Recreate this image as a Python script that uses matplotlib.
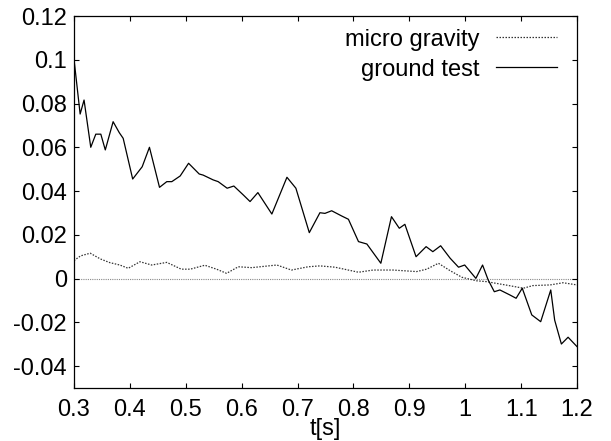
import matplotlib
matplotlib.use("Agg")
import matplotlib.pyplot as plt

# datos
t_ground = [0.300, 0.311, 0.318, 0.330, 0.339, 0.348, 0.356, 0.370, 0.381, 0.388,
            0.405, 0.422, 0.435, 0.453, 0.466, 0.475, 0.490, 0.505, 0.524, 0.531,
            0.549, 0.558, 0.574, 0.586, 0.603, 0.615, 0.629, 0.654, 0.681, 0.697,
            0.721, 0.740, 0.749, 0.761, 0.779, 0.791, 0.809, 0.824, 0.849, 0.868,
            0.882, 0.892, 0.912, 0.930, 0.942, 0.956, 0.973, 0.988, 0.999, 1.019,
            1.031, 1.041, 1.052, 1.062, 1.080, 1.091, 1.102, 1.119, 1.135, 1.153,
            1.160, 1.172, 1.184, 1.200]
ground = [0.1003, 0.0752, 0.0816, 0.0600, 0.0660, 0.0660, 0.0588, 0.0717, 0.0667, 0.0641,
          0.0455, 0.0511, 0.0600, 0.0417, 0.0443, 0.0443, 0.0469, 0.0527, 0.0478, 0.0473,
          0.0451, 0.0443, 0.0413, 0.0423, 0.0382, 0.0352, 0.0393, 0.0295, 0.0463, 0.0413,
          0.0210, 0.0301, 0.0298, 0.0310, 0.0286, 0.0271, 0.0169, 0.0158, 0.0070, 0.0283,
          0.0230, 0.0248, 0.0100, 0.0146, 0.0123, 0.0150, 0.0093, 0.0052, 0.0062, 0.0001,
          0.0062, -0.0006, -0.0060, -0.0052, -0.0075, -0.0090, -0.0044, -0.0166, -0.0197, -0.0052,
          -0.0190, -0.0299, -0.0268, -0.0311]

t_micro = [0.300, 0.303, 0.312, 0.329, 0.347, 0.364, 0.382, 0.397, 0.418, 0.439,
           0.466, 0.492, 0.508, 0.534, 0.555, 0.573, 0.594, 0.618, 0.663, 0.689,
           0.719, 0.740, 0.767, 0.809, 0.835, 0.871, 0.913, 0.931, 0.952, 0.973,
           0.994, 1.020, 1.038, 1.074, 1.104, 1.121, 1.152, 1.175, 1.200]
micro = [0.0082, 0.0088, 0.0104, 0.0116, 0.0090, 0.0073, 0.0062, 0.0047, 0.0077, 0.0062,
         0.0074, 0.0043, 0.0043, 0.0061, 0.0043, 0.0024, 0.0054, 0.0050, 0.0062, 0.0039,
         0.0054, 0.0058, 0.0052, 0.0029, 0.0039, 0.0039, 0.0032, 0.0043, 0.0070, 0.0036,
         0.0006, -0.0010, -0.0014, -0.0030, -0.0044, -0.0032, -0.0029, -0.0019, -0.0029]

xticks = [0.3, 0.4, 0.5, 0.6, 0.7, 0.8, 0.9, 1.0, 1.1, 1.2]
xticklabels = ["0.3", "0.4", "0.5", "0.6", "0.7", "0.8", "0.9", "1", "1.1", "1.2"]
yticks = [-0.04, -0.02, 0, 0.02, 0.04, 0.06, 0.08, 0.1, 0.12]
yticklabels = ["-0.04", "-0.02", "0", "0.02", "0.04", "0.06", "0.08", "0.1", "0.12"]

plt.rcParams["font.family"] = ["Liberation Sans", "DejaVu Sans"]
plt.rcParams["font.size"] = 17

fig = plt.figure(figsize=(6.11, 4.41), dpi=100)
ax = fig.add_axes([0.1211, 0.1202, 0.8233, 0.8435])

# eje cero
ax.axhline(0, color="#888888", lw=0.8, ls=(0, (1, 1)), zorder=1)

# curvas
ax.plot(t_micro, micro, color="#333333", lw=0.9, ls=(0, (1.2, 1.2)), label="micro gravity")
ax.plot(t_ground, ground, color="black", lw=0.9, label="ground test")

ax.set_xlim(0.3, 1.2)
ax.set_ylim(-0.05, 0.12)
ax.set_xticks(xticks)
ax.set_xticklabels(xticklabels)
ax.set_yticks(yticks)
ax.set_yticklabels(yticklabels)
ax.tick_params(direction="in", top=True, right=True, length=3.5, width=0.8)
ax.tick_params(axis="x", pad=8)
ax.tick_params(axis="y", pad=5)
for s in ax.spines.values():
    s.set_linewidth(0.9)

ax.set_xlabel("t[s]", labelpad=-2)

# leyenda
ax.legend(loc="upper right", bbox_to_anchor=(1.0, 1.02), frameon=False, markerfirst=False,
          handlelength=2.6, handletextpad=0.68, labelspacing=0.34,
          borderaxespad=0.5, borderpad=0.35)

plt.savefig("out.png", dpi=100)
